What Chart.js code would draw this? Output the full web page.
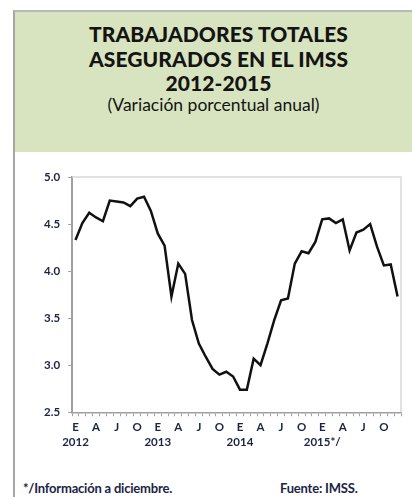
<!DOCTYPE html>
<html>
<head>
<meta charset="utf-8">
<script src="https://cdn.jsdelivr.net/npm/chart.js@4.4.1/dist/chart.umd.min.js"></script>
<style>
    body { margin: 0; width: 412px; height: 497px; background: #fff; position: relative; overflow: hidden; font-family: Lato, "Open Sans", sans-serif; }
    #frame { position: absolute; left: 13px; top: 10px; width: 420px; height: 500px; border-left: 2px solid #a6a6a6; border-top: 2px solid #b8b8b8; }
    #header { position: absolute; left: 15px; top: 12px; width: 397px; height: 140px; background: #d8e4bf; text-align: center; color: #141414; }
    #header .t { font-weight: 900; font-size: 21px; line-height: 24.5px; letter-spacing: 0.1px; margin-left: 10px; }
    #header .s { font-size: 17.5px; line-height: 19px; margin-top: -1px; }
    #chartWrap { position: absolute; left: 15px; top: 155px; width: 397px; height: 300px; }
    .note { position: absolute; top: 480px; font-size: 13px; font-weight: 700; color: #1b2447; letter-spacing: -0.2px; }
</style>
</head>
<body>
<div id="frame"></div>
<div id="header">
    <div style="height:10px"></div>
    <div class="t">TRABAJADORES TOTALES</div>
    <div class="t">ASEGURADOS EN EL IMSS</div>
    <div class="t">2012-2015</div>
    <div class="s">(Variación porcentual anual)</div>
</div>
<div id="chartWrap"><canvas id="imssChart" width="397" height="300"></canvas></div>
<div class="note" style="left:23px">*/Información a diciembre.</div>
<div class="note" style="left:280px">Fuente: IMSS.</div>

<script>
// Months Jan 2012 - Dec 2015
const monthLetters = ["E", "F", "M", "A", "M", "J", "J", "A", "S", "O", "N", "D"];
const years = ["2012", "2013", "2014", "2015*/"];
const shownMonths = [0, 3, 6, 9]; // E, A, J, O

// Annual % change
const variacion = [
    4.33, 4.51, 4.62, 4.57, 4.53, 4.75, 4.74, 4.73, 4.69, 4.77, 4.79, 4.64,
    4.40, 4.27, 3.73, 4.08, 3.97, 3.48, 3.23, 3.09, 2.96, 2.90, 2.93, 2.88,
    2.74, 2.74, 3.07, 3.00, 3.23, 3.48, 3.69, 3.71, 4.08, 4.21, 4.19, 4.31,
    4.55, 4.56, 4.51, 4.55, 4.22, 4.41, 4.44, 4.50, 4.26, 4.06, 4.07, 3.73
];

const yTicks = [2.5, 3.0, 3.5, 4.0, 4.5, 5.0];

const labels = [];
years.forEach((y, yi) => {
    monthLetters.forEach((m, mi) => labels.push(m + " " + y));
});

function tickLabel(index) {
    const mi = index % 12;
    const yi = Math.floor(index / 12);
    if (mi === 0) return ["E", years[yi]];
    if (shownMonths.includes(mi)) return [monthLetters[mi]];
    return "";
}

// light border on top and right of the plot area
const plotBorder = {
    id: "plotBorder",
    beforeDatasetsDraw(chart) {
        const { ctx, chartArea: a } = chart;
        ctx.save();
        ctx.strokeStyle = "#d9d9d9";
        ctx.lineWidth = 1.5;
        ctx.beginPath();
        ctx.moveTo(a.left, a.top);
        ctx.lineTo(a.right, a.top);
        ctx.lineTo(a.right, a.bottom);
        ctx.stroke();
        ctx.restore();
    }
};

new Chart(document.getElementById("imssChart"), {
    type: "line",
    data: {
        labels: labels,
        datasets: [{
            data: variacion,
            borderColor: "#111",
            borderWidth: 2.5,
            pointRadius: 0,
            tension: 0,
            fill: false
        }]
    },
    options: {
        responsive: false,
        animation: false,
        maintainAspectRatio: false,
        layout: { padding: { left: 21, right: 11, top: 22, bottom: 2 } },
        plugins: {
            legend: { display: false },
            tooltip: { enabled: false }
        },
        scales: {
            x: {
                offset: true,
                grid: {
                    offset: true,
                    drawOnChartArea: false,
                    tickLength: 4,
                    color: "#a0a0a0"
                },
                border: { color: "#a0a0a0", width: 1.5 },
                ticks: {
                    autoSkip: false,
                    maxRotation: 0,
                    padding: 4,
                    color: "#1b2447",
                    font: { family: "Lato", size: 11.5, weight: "bold", lineHeight: 1.25 },
                    callback: (v, i) => tickLabel(i)
                }
            },
            y: {
                min: 2.5,
                max: 5.0,
                afterBuildTicks: axis => { axis.ticks = yTicks.map(v => ({ value: v })); },
                grid: {
                    drawOnChartArea: false,
                    tickLength: 4,
                    color: "#a0a0a0"
                },
                border: { color: "#a0a0a0", width: 2 },
                ticks: {
                    autoSkip: false,
                    padding: 8,
                    color: "#1b2447",
                    font: { family: "Lato", size: 11.5, weight: "bold" },
                    callback: v => v.toFixed(1)
                }
            }
        }
    },
    plugins: [plotBorder]
});
</script>
</body>
</html>
